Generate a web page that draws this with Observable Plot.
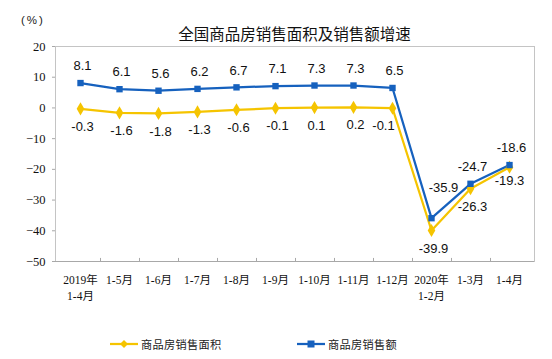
<!DOCTYPE html>
<html>
<head>
<meta charset="utf-8">
<script src="https://cdn.jsdelivr.net/npm/d3@7"></script>
<script src="https://cdn.jsdelivr.net/npm/@observablehq/plot@0.6"></script>
<style>
  html, body { margin: 0; padding: 0; background: #fff; }
  #wrap { position: relative; width: 552px; height: 359px; overflow: hidden; }
  #title { position: absolute; left: 55px; width: 479px; top: 21px; text-align: center;
           font-family: "Noto Sans CJK SC", sans-serif; font-size: 15.5px; color: #111; line-height: 24px; }
  #unit { position: absolute; left: 21px; top: 14px; font-family: "Liberation Sans", sans-serif;
          font-size: 11.5px; letter-spacing: 2px; color: #222; }
  #legend { position: absolute; top: 334px; left: 0; width: 552px; height: 20px;
            font-family: "Noto Sans CJK SC", sans-serif; font-size: 11.2px; letter-spacing: 0.3px; color: #222; }
  .item { position: absolute; top: 0; display: flex; align-items: center; height: 20px; }
  .item svg { margin-right: 3px; }
  #chart svg { display: block; }
</style>
</head>
<body>
<div id="wrap">
  <div id="chart"></div>
  <div id="unit">(%)</div>
  <div id="title">全国商品房销售面积及销售额增速</div>
  <div id="legend"></div>
</div>
<script>
const categories = ["2019年\n1-4月", "1-5月", "1-6月", "1-7月", "1-8月", "1-9月", "1-10月", "1-11月", "1-12月", "2020年\n1-2月", "1-3月", "1-4月"];
const keys = categories.map((c, i) => i + ":" + c);
const areaGrowth = [-0.3, -1.6, -1.8, -1.3, -0.6, -0.1, 0.1, 0.2, -0.1, -39.9, -26.3, -19.3];
const salesGrowth = [8.1, 6.1, 5.6, 6.2, 6.7, 7.1, 7.3, 7.3, 6.5, -35.9, -24.7, -18.6];
const yTicks = [-50, -40, -30, -20, -10, 0, 10, 20];
const seriesNames = ["商品房销售面积", "商品房销售额"];
const colors = ["#F5C400", "#1661BE"];

const area = keys.map((k, i) => ({k, v: areaGrowth[i]}));
const sales = keys.map((k, i) => ({k, v: salesGrowth[i]}));

// label offsets (style only)
const salesDx = i => (i === 9 ? 12 : 2);
const salesDy = i => (i === 9 ? -30 : -17);
const areaDx = i => (i === 8 ? -9 : i === 11 ? 0 : 2);
const areaDy = i => (i === 11 ? 14 : 18);

const labelFont = "Liberation Sans, Arial, sans-serif";
const plot = Plot.plot({
  width: 552,
  height: 359,
  marginLeft: 55,
  marginRight: 18,
  marginTop: 46,
  marginBottom: 98,
  x: {type: "point", domain: keys, padding: 0.5, label: null},
  y: {domain: [-50, 20], label: null},
  marks: [
    Plot.frame({stroke: "#c4c4c4"}),
    Plot.ruleY([-50], {stroke: "#a8a8a8"}),
    Plot.axisY({ticks: yTicks, tickSize: 3, tickPadding: 7, stroke: "#a8a8a8",
      fontSize: 12.5, fontFamily: "Liberation Serif, Times New Roman, serif", fill: "#111"}),
    Plot.axisX({tickSize: 0, tickPadding: 11, tickFormat: k => k.split(":")[1],
      fontSize: 11.5, lineHeight: 1.4, fontFamily: "Liberation Serif, Noto Sans CJK SC, serif", fill: "#111"}),
    Plot.ruleX(keys.slice(0, -1), {x: d => d, y1: -50, y2: -49, dx: 20, stroke: "#a8a8a8"}),
    Plot.line(area, {x: "k", y: "v", stroke: colors[0], strokeWidth: 2.25}),
    Plot.line(sales, {x: "k", y: "v", stroke: colors[1], strokeWidth: 2.25}),
    Plot.dot(area, {x: "k", y: "v", symbol: "diamond", r: 4, fill: colors[0], stroke: "none"}),
    Plot.dot(sales, {x: "k", y: "v", symbol: "square", r: 3.6, fill: colors[1], stroke: "none"}),
    ...area.map((d, i) => Plot.text([d], {x: "k", y: "v", text: d => d.v.toFixed(1), dx: areaDx(i), dy: areaDy(i),
      fontSize: 13, fontFamily: labelFont, fill: "#111"})),
    ...sales.map((d, i) => Plot.text([d], {x: "k", y: "v", text: d => d.v.toFixed(1), dx: salesDx(i), dy: salesDy(i),
      fontSize: 13, fontFamily: labelFont, fill: "#111"}))
  ]
});
document.getElementById("chart").append(plot);

// legend
const legend = document.getElementById("legend");
const legendX = [110, 297];
const symbols = [
  '<polygon points="14,3 18,7 14,11 10,7" fill="' + colors[0] + '"/>',
  '<rect x="10.5" y="3.5" width="7" height="7" fill="' + colors[1] + '"/>'
];
seriesNames.forEach((name, i) => {
  const item = document.createElement("div");
  item.className = "item";
  item.style.left = legendX[i] + "px";
  item.innerHTML = '<svg width="28" height="14"><line x1="0" x2="28" y1="7" y2="7" stroke="' + colors[i] +
    '" stroke-width="2.25"/>' + symbols[i] + '</svg><span>' + name + '</span>';
  legend.append(item);
});
</script>
</body>
</html>
